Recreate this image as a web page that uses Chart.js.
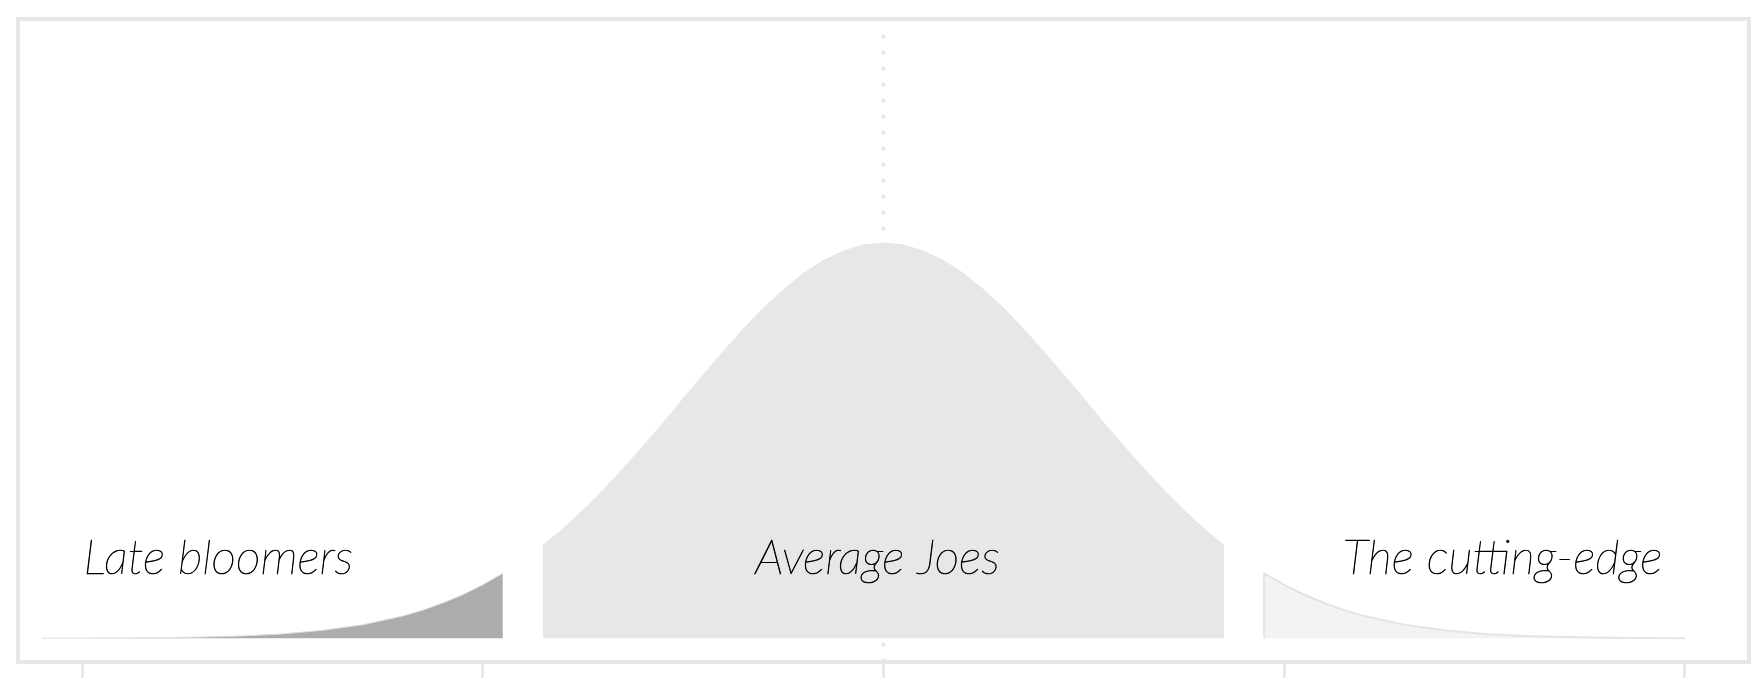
<!DOCTYPE html>
<html>
<head>
<meta charset="utf-8">
<script src="https://cdn.jsdelivr.net/npm/chart.js@4.4.1/dist/chart.umd.min.js"></script>
<style>
  html, body { margin: 0; padding: 0; background: #fff; }
  #wrap { width: 1764px; height: 690px; }
</style>
</head>
<body>
<div id="wrap"><canvas id="chart"></canvas></div>
<script>
// Curve, in standard deviations (x) and share of the peak (y)
const lateX    = [-4.2, -4.0, -3.8, -3.6, -3.4, -3.2, -3.0, -2.8, -2.6, -2.4, -2.3, -2.2, -2.1, -2.0, -1.9];
const lateY    = [0.0001, 0.0003, 0.0007, 0.0015, 0.003, 0.006, 0.011, 0.020, 0.034, 0.056, 0.071, 0.089, 0.110, 0.135, 0.164];

const averageX = [-1.7, -1.6, -1.5, -1.4, -1.3, -1.2, -1.1, -1.0, -0.9, -0.8, -0.7, -0.6, -0.5, -0.4, -0.3, -0.2, -0.1, 0,
                  0.1, 0.2, 0.3, 0.4, 0.5, 0.6, 0.7, 0.8, 0.9, 1.0, 1.1, 1.2, 1.3, 1.4, 1.5, 1.6, 1.7];
const averageY = [0.236, 0.278, 0.325, 0.375, 0.430, 0.487, 0.546, 0.607, 0.667, 0.726, 0.783, 0.835, 0.882, 0.923, 0.956, 0.980, 0.995, 1,
                  0.995, 0.980, 0.956, 0.923, 0.882, 0.835, 0.783, 0.726, 0.667, 0.607, 0.546, 0.487, 0.430, 0.375, 0.325, 0.278, 0.236];

const edgeX    = [1.9, 1.9, 2.0, 2.1, 2.2, 2.3, 2.4, 2.6, 2.8, 3.0, 3.2, 3.4, 3.6, 3.8, 4.0, 4.0];
const edgeY    = [0, 0.164, 0.135, 0.110, 0.089, 0.071, 0.056, 0.034, 0.020, 0.011, 0.006, 0.003, 0.0015, 0.0007, 0.0003, 0];

const meanX    = [0, 0];
const meanY    = [1.525, -0.06];

const tickValues = [-4, -2, 0, 2, 4];

const groupNames = ['Late bloomers', 'Average Joes', 'The cutting-edge'];
const groupAt    = [-3.32, -0.03, 3.09];

const toPoints = (xs, ys) => xs.map((x, i) => ({ x, y: ys[i] }));

const LINE = '#e6e7e9';

// Outer frame round the plot area
const framePlugin = {
  id: 'frame',
  afterDraw(chart) {
    const { ctx, chartArea: a } = chart;
    ctx.save();
    ctx.strokeStyle = LINE;
    ctx.lineWidth = 4;
    ctx.strokeRect(a.left, a.top, a.right - a.left, a.bottom - a.top);
    ctx.restore();
  }
};

// Group names written inside the plot (hairline face, lightly stroked to darken it)
const namesPlugin = {
  id: 'names',
  afterDatasetsDraw(chart) {
    const { ctx, scales } = chart;
    ctx.save();
    ctx.font = 'italic 100 48px Lato';
    ctx.fillStyle = '#000';
    ctx.strokeStyle = '#000';
    ctx.lineWidth = 0.7;
    ctx.textAlign = 'center';
    ctx.textBaseline = 'alphabetic';
    const y = scales.y.getPixelForValue(0.162);
    groupNames.forEach((name, i) => {
      const x = scales.x.getPixelForValue(groupAt[i]);
      ctx.fillText(name, x, y);
      ctx.strokeText(name, x, y);
    });
    ctx.restore();
  }
};

new Chart(document.getElementById('chart'), {
  type: 'line',
  data: {
    datasets: [
      {
        label: 'Late bloomers',
        data: toPoints(lateX, lateY),
        backgroundColor: '#acacac',
        borderColor: '#dedede',
        borderWidth: 1,
        fill: 'origin',
        order: 1
      },
      {
        label: 'Average Joes',
        data: toPoints(averageX, averageY),
        backgroundColor: '#e6e7e9',
        borderWidth: 0,
        fill: 'origin',
        order: 1
      },
      {
        label: 'The cutting-edge',
        data: toPoints(edgeX, edgeY),
        backgroundColor: '#f3f3f3',
        borderColor: '#e4e4e4',
        borderWidth: 2,
        fill: 'origin',
        order: 1
      },
      {
        label: 'mean',
        data: toPoints(meanX, meanY),
        borderColor: '#e6e7e9',
        borderWidth: 4,
        borderDash: [4, 12],
        borderCapStyle: 'butt',
        fill: false,
        order: 10
      }
    ]
  },
  options: {
    responsive: true,
    maintainAspectRatio: false,
    animation: false,
    layout: { padding: { left: 18, right: 15, top: 19, bottom: 12 } },
    elements: {
      point: { radius: 0, hoverRadius: 0 },
      line: { tension: 0 }
    },
    plugins: {
      legend: { display: false },
      tooltip: { enabled: false }
    },
    scales: {
      x: {
        type: 'linear',
        min: -4.32,
        max: 4.32,
        afterBuildTicks: scale => { scale.ticks = tickValues.map(v => ({ value: v })); },
        ticks: { display: false },
        grid: {
          drawOnChartArea: false,
          drawTicks: true,
          tickLength: 16,
          color: LINE,
          lineWidth: 3
        },
        border: { display: false }
      },
      y: {
        display: false,
        min: -0.06,
        max: 1.565
      }
    }
  },
  plugins: [framePlugin, namesPlugin]
});
</script>
</body>
</html>
